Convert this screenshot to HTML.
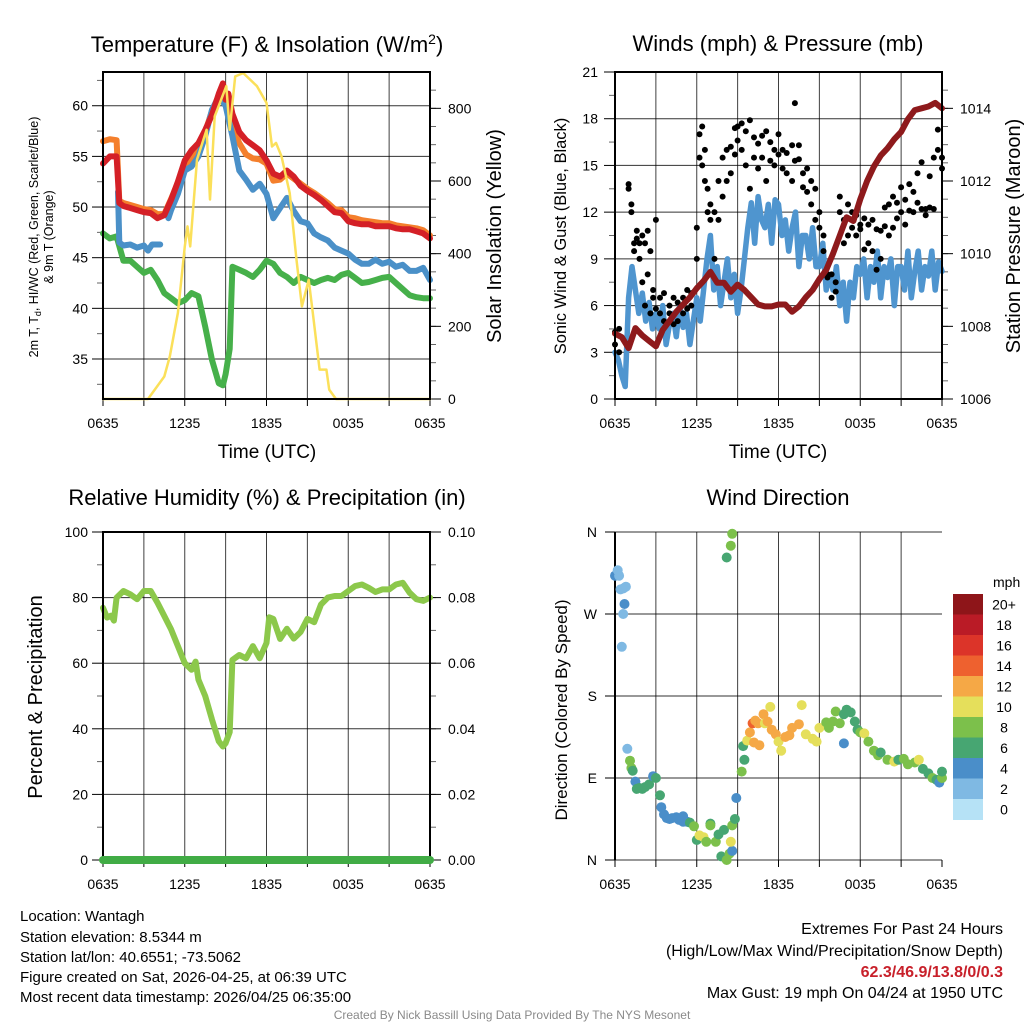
<!DOCTYPE html>
<html><head><meta charset="utf-8">
<style>
html,body{margin:0;padding:0;background:#fff;}
svg{display:block;font-family:"Liberation Sans",Arial,sans-serif;}
</style></head>
<body>
<svg id="chart" xmlns="http://www.w3.org/2000/svg" width="1024" height="1024" viewBox="0 0 1024 1024">
<rect width="1024" height="1024" fill="#fff"/>
<text x="267" y="52" font-size="22" text-anchor="middle">Temperature (F) &amp; Insolation (W/m<tspan dy="-8" font-size="14">2</tspan><tspan dy="8">)</tspan></text>
<text x="778" y="51" font-size="22" text-anchor="middle">Winds (mph) &amp; Pressure (mb)</text>
<text x="267" y="505" font-size="22" text-anchor="middle">Relative Humidity (%) &amp; Precipitation (in)</text>
<text x="778" y="505" font-size="22" text-anchor="middle">Wind Direction</text>

<text transform="translate(40,237) rotate(-90)" font-size="12.5" text-anchor="middle"><tspan x="0" dy="-2">2m T, T<tspan font-size="9" dy="3">d</tspan><tspan dy="-3">, HI/WC (Red, Green, Scarlet/Blue)</tspan></tspan><tspan x="0" dy="15">&amp; 9m T (Orange)</tspan></text>
<text transform="translate(501,236) rotate(-90)" font-size="20" text-anchor="middle">Solar Insolation (Yellow)</text>
<text transform="translate(566,236) rotate(-90)" font-size="16.5" text-anchor="middle">Sonic Wind &amp; Gust (Blue, Black)</text>
<text transform="translate(1020,236) rotate(-90)" font-size="20" text-anchor="middle">Station Pressure (Maroon)</text>
<text transform="translate(42,697) rotate(-90)" font-size="20" text-anchor="middle">Percent &amp; Precipitation</text>
<text transform="translate(567,710) rotate(-90)" font-size="17" text-anchor="middle">Direction (Colored By Speed)</text>
<text x="267" y="458" font-size="19" text-anchor="middle">Time (UTC)</text>
<text x="778" y="458" font-size="19" text-anchor="middle">Time (UTC)</text>

<g font-size="15">
<text x="20" y="921">Location: Wantagh</text>
<text x="20" y="942">Station elevation: 8.5344 m</text>
<text x="20" y="962">Station lat/lon: 40.6551; -73.5062</text>
<text x="20" y="982">Figure created on Sat, 2026-04-25, at 06:39 UTC</text>
<text x="20" y="1002">Most recent data timestamp: 2026/04/25 06:35:00</text>
</g>
<g font-size="16" text-anchor="end">
<text x="1003" y="934">Extremes For Past 24 Hours</text>
<text x="1003" y="956">(High/Low/Max Wind/Precipitation/Snow Depth)</text>
<text x="1003" y="977" fill="#c8202a" font-weight="bold">62.3/46.9/13.8/0/0.3</text>
<text x="1003" y="998">Max Gust: 19 mph On 04/24 at 1950 UTC</text>
</g>
<text x="512" y="1019" font-size="12" fill="#8a8a8a" text-anchor="middle">Created By Nick Bassill Using Data Provided By The NYS Mesonet</text>
</svg>
<script>
// ---------- Temperature panel data ----------
const redHours=[0,0.5,1,1.2,1.5,2,2.5,3,3.5,4,4.5,5,5.5,6,6.5,7,7.5,8,8.5,8.8,9,9.2,9.5,10,10.5,11,11.5,12,12.5,13,13.5,14,14.5,15,15.5,16,16.5,17,17.5,18,18.5,19,19.5,20,20.5,21,21.5,22,22.5,23,23.5,24];
const redTemp=[54.3,55,55,50.4,50.1,49.9,49.7,49.5,49.4,48.9,49.2,50.7,52.5,54.6,55.6,56.3,57.6,59.1,61.2,62.2,60.6,61.2,59.2,57.4,56.6,56.1,55.6,54.6,53.3,53,53.6,53,52.1,51.6,51.2,50.7,50.1,49.5,49.4,48.6,48.4,48.3,48.3,48.1,48.1,48.1,47.9,47.8,47.8,47.6,47.4,46.9];
const orangeTemp=[56.5,56.7,56.6,50.6,50.4,50.2,50,49.8,49.7,49.3,49.3,50.8,52.4,54,55,56,57.4,59.5,61,61.5,60,60,58,56.3,55.2,54.8,54.7,54.3,52.6,52.7,53.3,52.8,52.3,51.8,51.4,50.9,50.4,49.8,49.7,49,48.9,48.7,48.6,48.5,48.4,48.4,48.2,48.1,48,47.9,47.7,47.2];
const blueHours=[1.1,1.2,1.5,2,2.5,3,3.3,3.6,4.2,4.5,4.8,5,5.5,6,6.5,7,7.5,8,8.5,9,9.5,10,10.5,11,11.5,12,12.5,13,13.5,14,14.5,15,15.5,16,16.5,17,17.5,18,18.5,19,19.5,20,20.5,21,21.5,22,22.5,23,23.5,24];
const blueTemp=[51.5,46.5,46.2,46.3,46,46.2,45.7,46.3,46.3,null,48.9,49.7,51.3,53.6,54,55,57,59.6,60.9,60,57,53.6,52.7,51.7,52.3,51.3,48.9,49.9,50.9,49.6,48.6,48.4,47.4,47,46.7,46,45.7,45.4,44.8,44.4,44.4,44.8,44.4,44.6,44.1,44.3,43.7,43.7,44,42.8];
const greenHours=[0,0.5,1,1.5,2,2.5,3,3.5,4,4.5,5,5.5,6,6.5,7,7.5,8,8.5,8.8,9,9.3,9.5,10,10.5,11,11.5,12,12.5,13,13.5,14,14.5,15,15.5,16,16.5,17,17.5,18,18.5,19,19.5,20,20.5,21,21.5,22,22.5,23,23.5,24];
const greenTemp=[47.4,46.9,47.1,44.7,44.7,44.1,43.5,43.8,42.8,41.5,41,40.5,40.8,41.5,41.2,38.2,34.9,32.6,32.4,33.5,36,44.1,43.8,43.5,43.1,43.8,44.7,44.4,43.5,43.1,42.5,43.1,42.8,42.5,42.8,43,42.8,43.3,43.5,43,42.5,42.6,42.8,43,43.1,42.5,41.9,41.3,41.1,41,41];
const solarHours=[0,3.3,4.5,4.9,5.5,6,6.2,6.4,6.9,7.6,7.85,8.2,9.05,9.3,9.7,10.3,11.3,12,12.4,12.7,13.1,13.7,14.2,14.6,15.1,15.4,15.9,16.4,16.6,17.1,24];
const solarW=[0,0,62,117,237,420,475,420,659,741,549,778,861,741,888,897,861,815,695,705,668,567,383,255,328,237,81,81,26,0,0];
const tempTicks=[35,40,45,50,55,60];
const solarTicks=[0,200,400,600,800];
// ---------- Winds panel data ----------
const hourGrid=[0,0.5,1,1.5,2,2.5,3,3.5,4,4.5,5,5.5,6,6.5,7,7.5,8,8.5,9,9.5,10,10.5,11,11.5,12,12.5,13,13.5,14,14.5,15,15.5,16,16.5,17,17.5,18,18.5,19,19.5,20,20.5,21,21.5,22,22.5,23,23.5,24];
const pressureMb=[1007.8,1007.7,1007.4,1007.95,1007.75,1007.6,1007.45,1007.9,1008.15,1008.4,1008.6,1008.8,1009.05,1009.25,1009.5,1009.2,1009.2,1008.95,1009.15,1009.0,1008.8,1008.6,1008.55,1008.55,1008.6,1008.6,1008.4,1008.55,1008.8,1009.0,1009.3,1009.55,1010.0,1010.5,1011.0,1010.9,1011.5,1012.0,1012.4,1012.7,1012.9,1013.15,1013.35,1013.7,1013.95,1014.0,1014.05,1014.15,1014.0];
const sonicHours=[0,0.25,0.5,0.75,1,1.25,1.5,1.75,2,2.25,2.5,2.75,3,3.25,3.5,3.75,4,4.25,4.5,4.75,5,5.25,5.5,5.75,6,6.25,6.5,6.75,7,7.25,7.5,7.75,8,8.25,8.5,8.75,9,9.25,9.5,9.75,10,10.25,10.5,10.75,11,11.25,11.5,11.75,12,12.25,12.5,12.75,13,13.25,13.5,13.75,14,14.25,14.5,14.75,15,15.25,15.5,15.75,16,16.25,16.5,16.75,17,17.25,17.5,17.75,18,18.25,18.5,18.75,19,19.25,19.5,19.75,20,20.25,20.5,20.75,21,21.25,21.5,21.75,22,22.25,22.5,22.75,23,23.25,23.5,23.75,24];
const sonicWind=[3,2.5,1.5,0.8,6.5,8.5,7,5.5,6.8,5,6.2,4.5,5.5,4.5,6,3.5,4.8,5.5,4,6,4.6,5.5,3.5,5,6.5,5,7,9,10.5,7,8.5,6,7.5,9,6.5,8,5.5,7,9,11,12.6,10,13,11.5,11,12.5,10,12.8,12.5,10.5,11.5,9.5,11,12,8.5,10.5,10.5,9,11,8.5,8.5,10,7,8,7,8.5,6,7.5,5,7.5,6.5,8.5,8,9,6.5,8.5,7.5,9.5,6.5,8.5,7.8,9,6,8.5,8.5,7,9.5,6.5,8.2,9.5,7,8.5,7.9,9.5,7,8.8,8.2];
const gustSlotHours=[0,0.3,1.0,1.2,1.4,1.6,1.8,2.0,2.2,2.4,
2.6,2.8,3.0,3.3,3.6,4.0,4.3,4.6,5.0,5.3,
5.6,6.0,6.2,6.4,6.6,6.8,7.0,7.3,7.6,7.9,
8.2,8.5,8.8,9.0,9.3,9.6,9.9,10.2,10.5,10.8,
11.1,11.4,11.7,12.0,12.3,12.6,13.0,13.2,13.5,13.8,
14.1,14.4,14.7,15.0,15.3,15.6,15.9,16.2,16.5,16.8,
17.1,17.4,17.7,18.0,18.3,18.6,18.9,19.2,19.5,19.8,
20.1,20.4,20.7,21.0,21.3,21.6,21.9,22.2,22.5,22.8,
23.1,23.4,23.7,24.0];
const gustFirst=[3.5,3,13.5,12.5,10,10.3,9,10.5,10,10.8,
9.5,7,5.8,6.5,6.8,6,6.5,5,6.5,7,
6.8,11,17,17.5,16,13.5,12.5,12,14,15.5,
16,16.2,17.4,17.5,17.7,17.2,17.9,16.8,16.4,16.9,
17.2,15.3,16,17,16,15.8,16.3,19,16.3,14.5,
14.8,14,13.5,12,10.5,8,6.5,7.5,13,11.5,
12.5,11,10.5,11.2,11.6,10,11.5,10.9,9,12.3,
12.5,13,12.6,13.6,12.8,13.8,13.3,14.5,12.2,11.8,
14.3,15.5,17.3,15.5];
const gustSecond=[4.3,4.5,13.8,12,9.5,10.8,10,7.5,6,8,
5.5,6.5,11.5,5.5,5,5.5,4.8,6.2,5.5,5.8,
6,9,15.5,15,14,12,11.5,9,11.5,13,
14,14.5,15.7,16.6,16,15,13.5,15.5,14.8,15.5,
14,16.5,15,15.7,14.8,14.5,14,15.3,15.4,13.6,
13.3,12.5,11.5,11,9.5,7.8,8,6.9,12,10,
10.5,12,11.8,10.9,9.6,11.2,9.5,8.3,10.8,11.1,
10.5,11,11.6,12,11.2,12.1,12,12.6,15.2,12.2,
12.3,12.2,16,14.8];
const windTicks=[0,3,6,9,12,15,18,21];
const pressureTicks=[1006,1008,1010,1012,1014];
// ---------- Humidity panel data ----------
const rhHours=[0,0.3,0.6,0.8,1,1.5,2,2.5,3,3.5,4,4.5,5,5.5,6,6.5,6.8,7,7.5,8,8.5,8.8,9,9.3,9.5,10,10.5,11,11.5,12,12.2,12.5,13,13.5,14,14.5,15,15.5,16,16.5,17,17.5,18,18.5,19,19.5,20,20.5,21,21.5,22,22.5,23,23.5,24];
const rhPct=[76.9,73.9,74.5,73,80,82,81,79.5,82,82,78.4,74.4,70.3,65.2,60,58,60.5,55,50,42.8,36.2,34.6,35.6,39,61,62.5,61.5,65.2,61.5,66.2,74,73.5,67.4,70.5,67.5,69.5,73.5,72.5,77.9,80,80.5,80.5,82,83.5,84,83,81.7,82.5,82.5,84,84.5,81.5,79.5,79,80];
const precipIn=[0,0];
const precipHours=[0,24];
const rhTicks=[0,20,40,60,80,100];
const precipTicks=[0,0.02,0.04,0.06,0.08,0.10];
// ---------- Wind direction data ----------
const dirHours=[0,0.2,0.3,0.4,0.6,0.8,0.7,0.6,0.5,0.9,1.1,1.2,1.3,1.5,1.6,1.8,2,2.2,2.5,2.8,3,3.3,3.4,3.6,3.8,4,4.2,4.5,4.7,5,5,5.3,5.5,5.8,6,6.2,6.5,6.7,7,7,7.4,7.6,7.8,8,8.2,8.4,8.6,8.5,8.6,8.8,8.9,9.3,9.5,9.4,8.2,8.5,8.6,9.7,9.9,10.1,10.3,10.5,10.2,10.6,10.9,11,11.2,11.4,11.5,11.8,12,12.2,12.5,12.8,13,13.5,13.7,14,14.5,14.8,15,15.5,15.7,16,16.2,16.5,16.8,16.8,17,17.3,17.6,17.8,18,18.3,18.6,19,19.3,19.5,20,20.5,20.8,21.2,21.5,22,22.3,22.6,23,23.3,23.6,23.8,24,24];
const dirDeg=[312,318,312,297,298,300,281,270,234,122,109,101,98,86,78,79,78,80,83,92,90,71,58,50,46,45,46,47,44,42,48,42,41,37,22,27,25,20,40,38,20,28,4,33,0,7,10,20,38,45,68,97,110,125,332,345,358,131,140,150,153,150,129,126,160,150,152,168,143,138,130,120,135,137,145,149,170,138,133,130,145,151,145,152,163,150,160,128,165,162,152,143,140,139,130,120,115,118,110,108,110,111,105,107,110,100,95,90,88,85,90,97];
const dirSpeed=[3.5,2,2,2,2,2,4,2,1,1,7,7,6,4,6,5,6,6,6,4,5,6,4,4,4,4,4,4,4,4,3,4,6,8,6,10,10,8,6,8,8,6,6,6,8,8,4,10,8,6,4,8,6,6,6,8,8,10,12,14,12,12,12,12,12,10,12,10,12,12,10,10,12,12,12,12,10,10,10,10,10,8,8,8,8,8,6,4,6,6,6,6,8,10,8,8,8,6,8,10,6,8,8,8,10,6,6,8,6,4,8,6];
const dirLabels=["N","E","S","W","N"];
const speedBins=["0","2","4","6","8","10","12","14","16","18","20+"];
const binColors=["#b6e2f6","#7fb9e3","#4a8ec9","#47a672","#7cc04b","#e5df5b","#f5a846","#ee612f","#dc3429","#ba1b26","#8e1519"];

const NS="http://www.w3.org/2000/svg";
const svg=document.getElementById('chart');
function mk(tag,attrs,parent){const e=document.createElementNS(NS,tag);for(const k in attrs)e.setAttribute(k,attrs[k]);(parent||svg).appendChild(e);return e;}
function panel(x0,x1,y0,y1){return {x0,x1,y0,y1,sx:h=>x0+(x1-x0)*h/24};}
function scaleY(p,lo,hi){return v=>p.y1-(v-lo)/(hi-lo)*(p.y1-p.y0);}
function pathD(xs,ys,sx,sy){let d='',pen=false;for(let i=0;i<Math.min(xs.length,ys.length);i++){if(ys[i]===null||ys[i]===undefined){pen=false;continue;}d+=(pen?'L':'M')+sx(xs[i]).toFixed(1)+','+sy(ys[i]).toFixed(1);pen=true;}return d;}

function frame(p,g,name,xTickY){
  for(let h=3;h<24;h+=3){const l=mk('line',{x1:p.sx(h),x2:p.sx(h),y1:p.y0,y2:p.y1,stroke:'#000','stroke-width':1,opacity:0.75},g);
    
    }
  const xl=['0635','1235','1835','0035','0635'];
  for(let i=0;i<=8;i++){const x=p.sx(i*3);const t=mk('line',{x1:x,x2:x,y1:p.y1,y2:p.y1+7,stroke:'#000','stroke-width':1},g);
    
    
    if(i%2===0){const tx=mk('text',{x:x,y:xTickY,'font-size':14,'text-anchor':'middle'},g);tx.textContent=xl[i/2];
      
      }}
}
function leftAxis(p,g,sy,ticks,minors,fmt,lx){
  ticks.forEach(v=>{const y=sy(v);
    const gl=mk('line',{x1:p.x0,x2:p.x1,y1:y,y2:y,stroke:'#000','stroke-width':1,opacity:0.8},g);
    
    
    const t=mk('line',{x1:p.x0-11,x2:p.x0,y1:y,y2:y,stroke:'#000','stroke-width':1},g);
    
    
    const tx=mk('text',{x:lx,y:y+5,'font-size':14,'text-anchor':'end'},g);tx.textContent=fmt(v);
    
    });
  minors.forEach(v=>{const y=sy(v);if(y<p.y0-0.5||y>p.y1+0.5)return;const t=mk('line',{x1:p.x0-6,x2:p.x0,y1:y,y2:y,stroke:'#000','stroke-width':1,opacity:0.6},g);
    
    });
}
function rightAxis(p,g,sy,ticks,minors,fmt,lx){
  ticks.forEach(v=>{const y=sy(v);
    const t=mk('line',{x1:p.x1,x2:p.x1+11,y1:y,y2:y,stroke:'#000','stroke-width':1},g);
    
    
    const tx=mk('text',{x:lx,y:y+5,'font-size':14,'text-anchor':'start'},g);tx.textContent=fmt(v);
    
    });
  minors.forEach(v=>{const y=sy(v);if(y<p.y0-0.5||y>p.y1+0.5)return;const t=mk('line',{x1:p.x1,x2:p.x1+6,y1:y,y2:y,stroke:'#000','stroke-width':1,opacity:0.6},g);
    
    });
}
function border(p,g){const r=mk('rect',{x:p.x0,y:p.y0,width:p.x1-p.x0,height:p.y1-p.y0,fill:'none',stroke:'#000','stroke-width':2},g);
  
  }
function line(g,d,color,w,name){const e=mk('path',{d:d,fill:'none',stroke:color,'stroke-width':w,'stroke-linejoin':'round','stroke-linecap':'round'},g);
  
  return e;}
function range(a,b,s){const r=[];for(let v=a;v<=b+1e-9;v+=s)r.push(+v.toFixed(4));return r;}

// ===== Panel 1 =====
{
const p=panel(103,430,72,399);
const g=mk('g',{});


const sy=scaleY(p,31.05,63.33), sr=scaleY(p,0,900);
frame(p,g,'t',428);
leftAxis(p,g,sy,tempTicks,range(32.5,62.5,5),v=>String(v),88);
rightAxis(p,g,sr,solarTicks,range(50,850,50),v=>String(v),448);
line(g,pathD(redHours,orangeTemp,p.sx,sy),'#f47f2c',6,'orange-9m-temp-line');
line(g,pathD(greenHours,greenTemp,p.sx,sy),'#46b04a',6,'green-dewpoint-line');
line(g,pathD(blueHours,blueTemp,p.sx,sy),'#4a90c8',6,'blue-windchill-line');
line(g,pathD(redHours,redTemp,p.sx,sy),'#d42027',6,'red-2m-temp-line');
line(g,pathD(solarHours,solarW,p.sx,sr),'#fbe05a',2.5,'yellow-solar-line');
border(p,g);
}
// ===== Panel 2 =====
{
const p=panel(615,942,72,399);
const g=mk('g',{});


const sy=scaleY(p,0,21), sr=scaleY(p,1006,1015);
frame(p,g,'w',428);
leftAxis(p,g,sy,windTicks,range(1.5,19.5,3),v=>String(v),598);
rightAxis(p,g,sr,pressureTicks,range(1006.5,1014.5,0.5),v=>String(v),960);
line(g,pathD(sonicHours,sonicWind,p.sx,sy),'#4f95cf',5.5,'sonic-wind-line');
for(let i=0;i<gustSlotHours.length;i++){
  [gustFirst[i],gustSecond[i]].forEach(v=>{
    const c=mk('circle',{cx:p.sx(gustSlotHours[i]).toFixed(1),cy:sy(v).toFixed(1),r:3,fill:'#000'},g);
    
    });}
line(g,pathD(hourGrid,pressureMb,p.sx,sr),'#8e1a1c',6,'pressure-line');
border(p,g);
}
// ===== Panel 3 =====
{
const p=panel(103,430,532,860);
const g=mk('g',{});


const sy=scaleY(p,0,100), sr=scaleY(p,0,0.1);
frame(p,g,'h',889);
leftAxis(p,g,sy,rhTicks,range(10,90,20),v=>String(v),88);
rightAxis(p,g,sr,precipTicks,range(0.01,0.09,0.01),v=>v.toFixed(2),448);
line(g,pathD(rhHours,rhPct,p.sx,sy),'#8cc84b',6,'relative-humidity-line');
border(p,g);
line(g,pathD(precipHours,precipIn,p.sx,sr),'#41ac45',8,'precipitation-line');
}
// ===== Panel 4 =====
{
const p=panel(615,942,532,860);
const g=mk('g',{});


const sy=scaleY(p,0,360);
frame(p,g,'d',889);
dirLabels.forEach((lab,i)=>{const y=sy(i*90);
  const gl=mk('line',{x1:p.x0,x2:p.x1,y1:y,y2:y,stroke:'#000','stroke-width':1,opacity:0.8},g);
  
  
  const t=mk('line',{x1:p.x0-10,x2:p.x0,y1:y,y2:y,stroke:'#000','stroke-width':1},g);
  
  
  const tx=mk('text',{x:597,y:y+5,'font-size':14,'text-anchor':'end'},g);tx.textContent=lab;
  
  });
const vb=mk('line',{x1:p.x0,x2:p.x0,y1:p.y0,y2:p.y1,stroke:'#000','stroke-width':2},g);


const n=Math.min(dirHours.length,dirDeg.length,dirSpeed.length);
for(let i=0;i<n;i++){const bi=Math.min(10,Math.round(dirSpeed[i]/2));
  const c=mk('circle',{cx:p.sx(dirHours[i]).toFixed(1),cy:sy(dirDeg[i]).toFixed(1),r:5,fill:binColors[bi]},g);
  
  }
const cb=mk('g',{},g);


const ct=mk('text',{x:993,y:587,'font-size':14,'text-anchor':'start'},cb);ct.textContent='mph';


const top=594,bh=20.5;
for(let k=0;k<speedBins.length;k++){const j=speedBins.length-1-k;const y=top+k*bh;
  const r=mk('rect',{x:953,y:y,width:30,height:bh+0.5,fill:binColors[j]},cb);
  
  
  const tx=mk('text',{x:1004,y:y+bh/2+5,'font-size':14,'text-anchor':'middle'},cb);tx.textContent=speedBins[j];
  
  }
}
</script>
</body></html>
